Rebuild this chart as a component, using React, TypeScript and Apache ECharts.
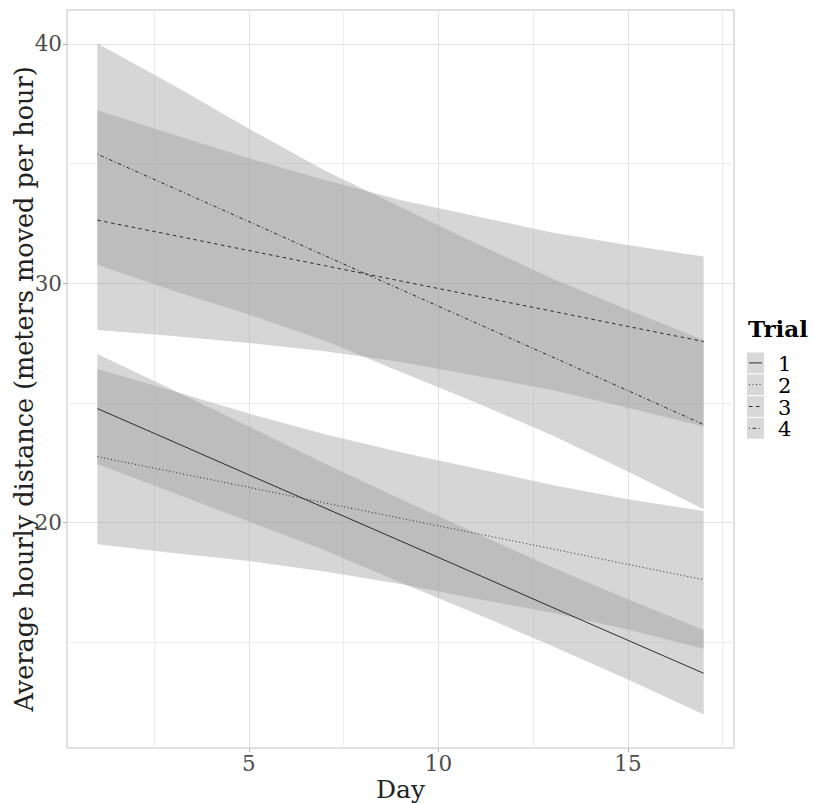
import React, { useEffect, useRef } from "react";
import * as echarts from "echarts";

const days = [1, 3, 5, 7, 9, 11, 13, 15, 17];
const trialNames = ["1", "2", "3", "4"];

const fit1 = [24.77, 23.39, 22.0, 20.62, 19.24, 17.86, 16.47, 15.09, 13.71];
const fit2 = [22.76, 22.12, 21.48, 20.83, 20.19, 19.55, 18.91, 18.26, 17.62];
const fit3 = [32.64, 32.01, 31.37, 30.74, 30.1, 29.47, 28.84, 28.2, 27.57];
const fit4 = [35.4, 33.99, 32.58, 31.16, 29.75, 28.34, 26.93, 25.52, 24.1];

const upper1 = [27.05, 25.55, 24.02, 22.48, 20.99, 19.56, 18.14, 16.8, 15.52];
const lower1 = [22.45, 21.25, 20.05, 18.85, 17.5, 16.2, 14.85, 13.45, 11.99];
const upper2 = [26.42, 25.5, 24.56, 23.7, 22.94, 22.27, 21.58, 20.98, 20.49];
const lower2 = [19.1, 18.74, 18.4, 17.96, 17.44, 16.83, 16.24, 15.54, 14.74];
const upper3 = [37.23, 36.22, 35.23, 34.32, 33.48, 32.8, 32.13, 31.6, 31.12];
const lower3 = [28.05, 27.8, 27.51, 27.16, 26.72, 26.14, 25.55, 24.8, 24.02];
const upper4 = [40.02, 38.29, 36.46, 34.72, 33.19, 31.67, 30.2, 28.9, 27.62];
const lower4 = [30.78, 29.69, 28.7, 27.6, 26.31, 25.01, 23.66, 22.14, 20.56];

const xTicks = [5, 10, 15];
const xMinorGrid = [2.5, 7.5, 12.5, 17.5];
const yTicks = [20, 30, 40];
const yMinorGrid = [15, 25, 35];

const xTitle = "Day";
const yTitle = "Average hourly distance (meters moved per hour)";
const legendTitle = "Trial";

const fits = [fit1, fit2, fit3, fit4];
const uppers = [upper1, upper2, upper3, upper4];
const lowers = [lower1, lower2, lower3, lower4];
const dashes: (number[] | "solid")[] = ["solid", [1, 2.5], [3.5, 3.5], [1, 2.5, 3.5, 2.5]];

const FONT = "DejaVu Serif";

export default function App() {
  const ref = useRef<HTMLDivElement>(null);
  useEffect(() => {
    if (!ref.current) return;
    const chart = echarts.init(ref.current, null, { renderer: "svg" });

    const ribbonSeries = trialNames.map((name, t) => ({
      type: "custom",
      name: "ribbon" + name,
      silent: true,
      z: 3,
      data: [[days[0], fits[t][0]]],
      encode: { x: 0, y: 1 },
      renderItem: (params: any, api: any) => {
        const pts: number[][] = [];
        days.forEach((d, i) => pts.push(api.coord([d, uppers[t][i]])));
        for (let i = days.length - 1; i >= 0; i--) pts.push(api.coord([days[i], lowers[t][i]]));
        return {
          type: "polygon",
          shape: { points: pts },
          style: { fill: "rgba(153,153,153,0.4)", stroke: "none" },
        };
      },
    }));

    const lineSeries = trialNames.map((name, t) => ({
      type: "line",
      name,
      z: 4,
      silent: true,
      symbol: "none",
      data: days.map((d, i) => [d, fits[t][i]]),
      lineStyle: { color: "#1a1a1a", width: 0.9, type: dashes[t] },
    }));

    const gridSeries = {
      type: "line",
      z: 1,
      silent: true,
      data: [],
      markLine: {
        z: 1,
        silent: true,
        symbol: ["none", "none"],
        label: { show: false },
        animation: false,
        data: [
          ...xTicks.map((v) => ({ xAxis: v, lineStyle: { color: "#e3e3e3", width: 1, type: "solid" } })),
          ...xMinorGrid.map((v) => ({ xAxis: v, lineStyle: { color: "#eeeeee", width: 1, type: "solid" } })),
          ...yTicks.map((v) => ({ yAxis: v, lineStyle: { color: "#e3e3e3", width: 1, type: "solid" } })),
          ...yMinorGrid.map((v) => ({ yAxis: v, lineStyle: { color: "#eeeeee", width: 1, type: "solid" } })),
        ],
      },
    };

    const legendX = 747;
    const legendY = 352;
    const keyH = 21.8;
    const graphics: any[] = [
      {
        type: "text",
        x: 748,
        y: 328,
        style: {
          text: legendTitle,
          font: `bold 23px "${FONT}"`,
          fill: "#000",
          verticalAlign: "middle",
          align: "left",
        },
      },
      {
        type: "text",
        x: 400.5,
        y: 789,
        style: {
          text: xTitle,
          font: `25px "${FONT}"`,
          fill: "#222",
          align: "center",
          verticalAlign: "middle",
        },
      },
      {
        type: "text",
        x: 24,
        y: 389,
        rotation: Math.PI / 2,
        style: {
          text: yTitle,
          font: `25.5px "${FONT}"`,
          fill: "#222",
          align: "center",
          verticalAlign: "middle",
        },
      },
    ];
    trialNames.forEach((name, i) => {
      const y0 = legendY + i * keyH;
      graphics.push({
        type: "rect",
        shape: { x: legendX, y: y0 + 0.5, width: 17, height: keyH - 1 },
        style: { fill: "#d8d8d8" },
      });
      graphics.push({
        type: "line",
        shape: { x1: legendX + 2, y1: y0 + keyH / 2, x2: legendX + 15, y2: y0 + keyH / 2 },
        style: {
          stroke: "#1a1a1a",
          lineWidth: 0.9,
          lineDash: dashes[i] === "solid" ? null : (dashes[i] as number[]),
        },
      });
      graphics.push({
        type: "text",
        x: 778,
        y: y0 + keyH / 2 + 1,
        style: {
          text: name,
          font: `21px "${FONT}"`,
          lineHeight: 20,
          fill: "#000",
          verticalAlign: "middle",
          align: "left",
        },
      });
    });

    chart.setOption({
      animation: false,
      grid: {
        left: 67,
        top: 10,
        width: 667,
        height: 738,
        show: true,
        borderColor: "#c2c2c2",
        borderWidth: 1,
        backgroundColor: "#fff",
        outerBoundsMode: "none",
        containLabel: false,
      },
      xAxis: {
        type: "value",
        min: 0.2,
        max: 17.8,
        axisLine: { show: false },
        splitLine: { show: false },
        axisTick: { show: true, customValues: xTicks, length: 4, lineStyle: { color: "#b3b3b3" } },
        axisLabel: {
          customValues: xTicks,
          fontFamily: FONT,
          fontSize: 21.5,
          color: "#4d4d4d",
          margin: 4,
        },
      },
      yAxis: {
        type: "value",
        min: 10.59,
        max: 41.42,
        axisLine: { show: false },
        splitLine: { show: false },
        axisTick: { show: true, customValues: yTicks, length: 4, lineStyle: { color: "#b3b3b3" } },
        axisLabel: {
          customValues: yTicks,
          fontFamily: FONT,
          fontSize: 21.5,
          color: "#4d4d4d",
          margin: 5,
        },
      },
      graphic: graphics,
      series: [gridSeries, ...ribbonSeries, ...lineSeries],
    } as any);

    return () => chart.dispose();
  }, []);

  return (
    <div
      ref={ref}
      style={{ position: "fixed", left: 0, top: 0, width: 813, height: 803, background: "#fff" }}
    />
  );
}
